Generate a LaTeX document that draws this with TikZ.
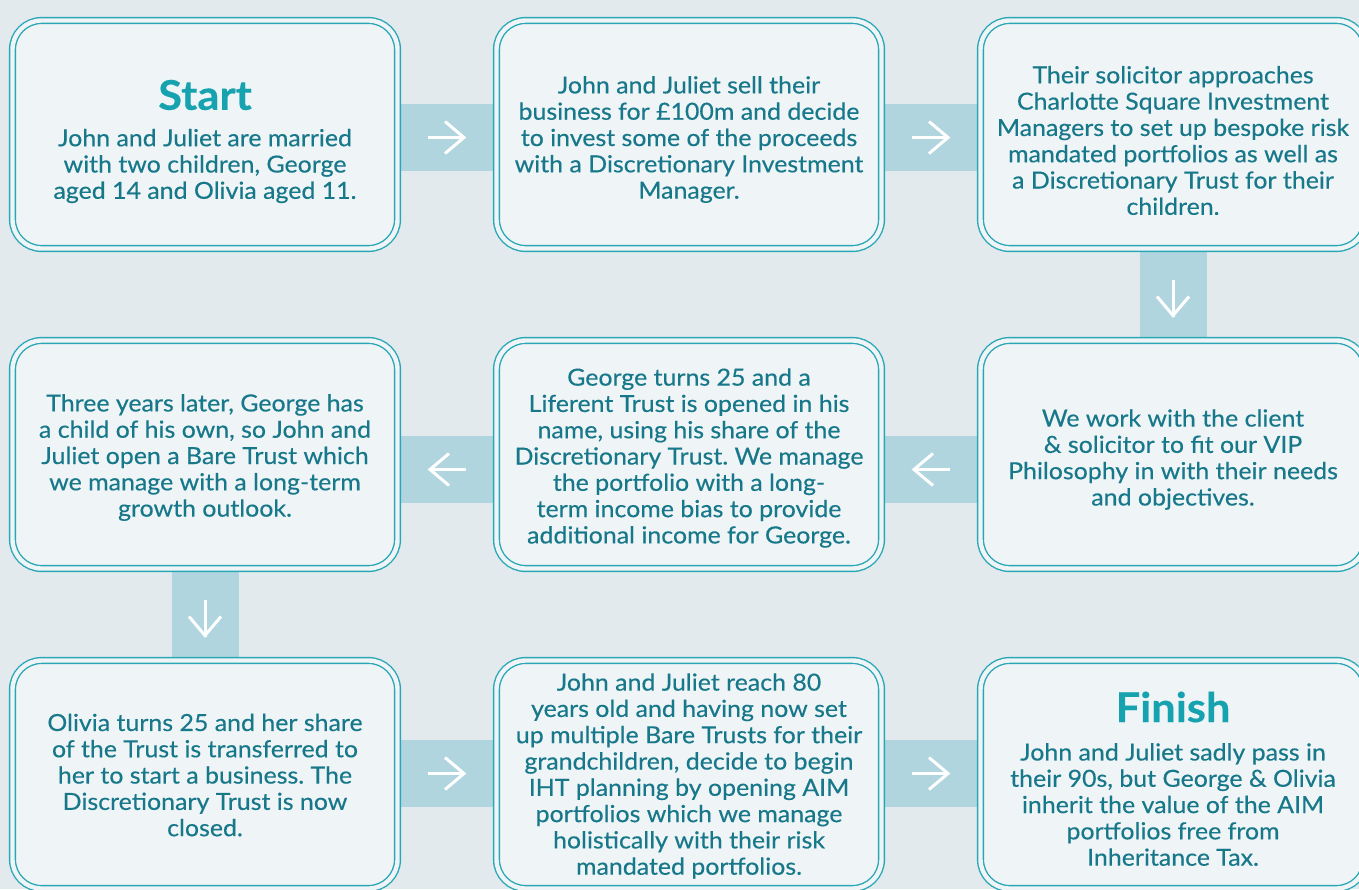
\documentclass[tikz,border=0pt]{standalone}
\usepackage{fontspec}
\setmainfont{Lato}[FakeStretch=1.06,FakeBold=0.35]
\frenchspacing
\usetikzlibrary{calc}
\definecolor{bgc}{HTML}{E2EAED}
\definecolor{boxfill}{HTML}{EFF4F7}
\definecolor{edge}{HTML}{2AA7B6}
\definecolor{txt}{HTML}{17788A}
\definecolor{ttl}{HTML}{17A2B0}
\definecolor{barc}{HTML}{B0D5DF}
\tikzset{
  stepbox/.style={draw=edge, fill=boxfill, line width=1.4pt, double=boxfill, double distance=4.4pt,
    rounded corners=29pt, minimum width=385pt, minimum height=228pt, inner sep=0pt},
  body/.style={text=txt, align=center, font=\fontsize{23.5}{26.3}\selectfont, inner sep=0pt},
  ttlstyle/.style={text=ttl, font=\bfseries\fontsize{41}{46}\selectfont, inner sep=0pt},
  hbar/.style={barc, line width=67pt},
  vbar/.style={barc, line width=67pt},
  arr/.style={white, line width=3pt, line join=miter, line cap=butt}
}
\begin{document}
\begin{tikzpicture}[x=1pt,y=-1pt]
\useasboundingbox (0,0) rectangle (1359,889);
\clip (0,0) rectangle (1359,889);
\fill[bgc] (0,0) rectangle (1359,889);
% box positions
\coordinate (pA) at (205,134.5);
\coordinate (pB) at (689,134.5);
\coordinate (pC) at (1173,134.5);
\coordinate (pF) at (205,454.5);
\coordinate (pE) at (689,454.5);
\coordinate (pD) at (1173,454.5);
\coordinate (pG) at (205,774.5);
\coordinate (pH) at (689,774.5);
\coordinate (pI) at (1173,774.5);
% connectors (bars) behind the boxes
\draw[hbar] ($(pA)+(190,3)$) -- ($(pB)+(-190,3)$);
\draw[hbar] ($(pB)+(190,3)$) -- ($(pC)+(-190,3)$);
\draw[vbar] ($(pC)+(0,110)$) -- ($(pD)+(0,-110)$);
\draw[hbar] ($(pD)+(-190,15)$) -- ($(pE)+(190,15)$);
\draw[hbar] ($(pE)+(-190,15)$) -- ($(pF)+(190,15)$);
\draw[vbar] ($(pF)+(0,110)$) -- ($(pG)+(0,-110)$);
\draw[hbar] ($(pG)+(190,-1)$) -- ($(pH)+(-190,-1)$);
\draw[hbar] ($(pH)+(190,-1)$) -- ($(pI)+(-190,-1)$);
% boxes
\node[stepbox] (A) at (pA) {};
\node[stepbox] (B) at (pB) {};
\node[stepbox] (C) at (pC) {};
\node[stepbox] (D) at (pD) {};
\node[stepbox] (E) at (pE) {};
\node[stepbox] (F) at (pF) {};
\node[stepbox] (G) at (pG) {};
\node[stepbox] (H) at (pH) {};
\node[stepbox] (I) at (pI) {};
% arrows
\coordinate (a1) at ($(A.east)!0.5!(B.west)+(0,3)$);
\draw[arr] ($(a1)+(-19,0)$) -- ($(a1)+(18,0)$);
\draw[arr] ($(a1)+(-2,-16)$) -- ($(a1)+(17,0)$) -- ($(a1)+(-2,16)$);
\coordinate (a2) at ($(B.east)!0.5!(C.west)+(0,3)$);
\draw[arr] ($(a2)+(-19,0)$) -- ($(a2)+(18,0)$);
\draw[arr] ($(a2)+(-2,-16)$) -- ($(a2)+(17,0)$) -- ($(a2)+(-2,16)$);
\coordinate (a3) at ($(C.south)!0.5!(D.north)+(0,4)$);
\draw[arr] ($(a3)+(0,-19)$) -- ($(a3)+(0,18)$);
\draw[arr] ($(a3)+(-16,-2)$) -- ($(a3)+(0,17)$) -- ($(a3)+(16,-2)$);
\coordinate (a4) at ($(D.west)!0.5!(E.east)+(0,15)$);
\draw[arr] ($(a4)+(19,0)$) -- ($(a4)+(-18,0)$);
\draw[arr] ($(a4)+(2,-16)$) -- ($(a4)+(-17,0)$) -- ($(a4)+(2,16)$);
\coordinate (a5) at ($(E.west)!0.5!(F.east)+(0,15)$);
\draw[arr] ($(a5)+(19,0)$) -- ($(a5)+(-18,0)$);
\draw[arr] ($(a5)+(2,-16)$) -- ($(a5)+(-17,0)$) -- ($(a5)+(2,16)$);
\coordinate (a6) at ($(F.south)!0.5!(G.north)+(0,4)$);
\draw[arr] ($(a6)+(0,-19)$) -- ($(a6)+(0,18)$);
\draw[arr] ($(a6)+(-16,-2)$) -- ($(a6)+(0,17)$) -- ($(a6)+(16,-2)$);
\coordinate (a7) at ($(G.east)!0.5!(H.west)+(0,-1)$);
\draw[arr] ($(a7)+(-19,0)$) -- ($(a7)+(18,0)$);
\draw[arr] ($(a7)+(-2,-16)$) -- ($(a7)+(17,0)$) -- ($(a7)+(-2,16)$);
\coordinate (a8) at ($(H.east)!0.5!(I.west)+(0,-1)$);
\draw[arr] ($(a8)+(-19,0)$) -- ($(a8)+(18,0)$);
\draw[arr] ($(a8)+(-2,-16)$) -- ($(a8)+(17,0)$) -- ($(a8)+(-2,16)$);
% texts
\node[ttlstyle] (tA) at ($(A.center)+(0,-39.5)$) {Start};
\node[body] (bA) at ($(A.center)+(0,31.5)$) {John and Juliet are married\\with two children, George\\aged 14 and Olivia aged 11.};
\node[body] (bB) at ($(B.center)+(0,5)$) {John and Juliet sell their\\business for £100m and decide\\to invest some of the proceeds\\with a Discretionary Investment\\Manager.};
\node[body] (bC) at ($(C.center)+(0,6)$) {Their solicitor approaches\\Charlotte Square Investment\\Managers to set up bespoke risk\\mandated portfolios as well as\\a Discretionary Trust for their\\children.};
\node[body] (bD) at ($(D.center)+(0,5)$) {We work with the client\\\& solicitor to fit our VIP\\Philosophy in with their needs\\and objectives.};
\node[body] (bE) at ($(E.center)+(0,3.5)$) {George turns 25 and a\\Liferent Trust is opened in his\\name, using his share of the\\Discretionary Trust. We manage\\the portfolio with a long-\\term income bias to provide\\additional income for George.};
\node[body] (bF) at ($(F.center)+(0,3)$) {Three years later, George has\\a child of his own, so John and\\Juliet open a Bare Trust which\\we manage with a long-term\\growth outlook.};
\node[body] (bG) at ($(G.center)+(0,0.5)$) {Olivia turns 25 and her share\\of the Trust is transferred to\\her to start a business. The\\Discretionary Trust is now\\closed.};
\node[body] (bH) at ($(H.center)+(0,1.5)$) {John and Juliet reach 80\\years old and having now set\\up multiple Bare Trusts for their\\grandchildren, decide to begin\\IHT planning by opening AIM\\portfolios which we manage\\holistically with their risk\\mandated portfolios.};
\node[ttlstyle] (tI) at ($(I.center)+(0,-67.5)$) {Finish};
\node[body] (bI) at ($(I.center)+(0,30)$) {John and Juliet sadly pass in\\their 90s, but George \& Olivia\\inherit the value of the AIM\\portfolios free from\\Inheritance Tax.};
\end{tikzpicture}
\end{document}
